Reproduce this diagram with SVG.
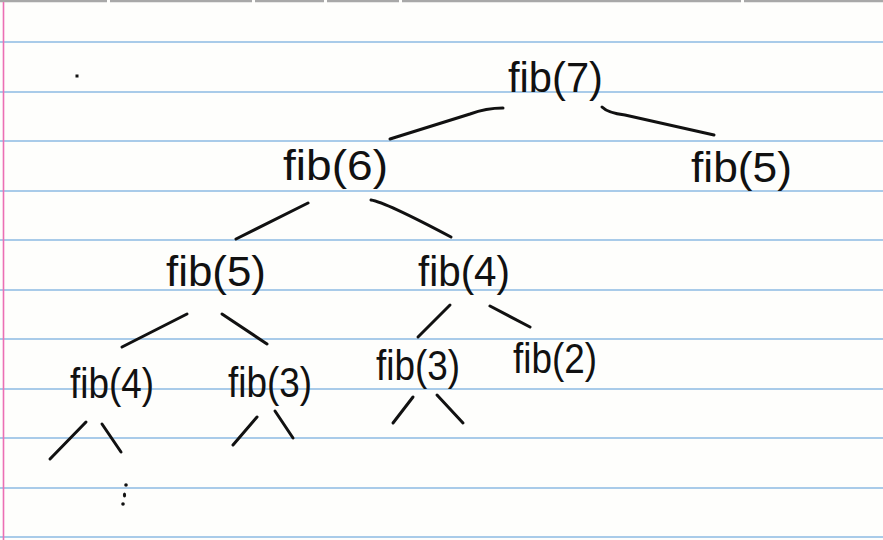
<svg xmlns="http://www.w3.org/2000/svg" width="883" height="540" viewBox="0 0 883 540">
<style>
.rule{stroke:#a9cbe9;stroke-width:2;fill:none}
.top{stroke:#a8a8a8;stroke-width:2.5;fill:none}
.lbl{font-family:"Liberation Sans",Arial,sans-serif;font-size:42px;fill:#111}
.edge{stroke:#111;stroke-width:3;stroke-linecap:round;fill:none}
</style>
<rect width="883" height="540" fill="#fefefc"/>
<g id="paper">
<path class="top" d="M0 1H107M110 1H252M255 1H324M327 1H399M402 1H741M744 1H883"/>
<path class="rule" d="M0 42H883M0 92H883M0 141H883M0 191H883M0 240H883M0 290H883M0 339H883M0 389H883M0 438H883M0 488H883M0 537H883"/>
<line x1="3.5" y1="2" x2="3.5" y2="540" stroke="#ec6fb4" stroke-width="1.6"/>
<rect x="75.5" y="74.5" width="3" height="3" fill="#111"/>
</g>
<g id="connectors">
<path class="edge" d="M503 108 Q486 108 470 114 L390 139"/>
<path class="edge" d="M602 107 Q608 113 625 115 L714 135"/>
<path class="edge" d="M308 203 L236 239"/>
<path class="edge" d="M371 200 Q385 202 451 237"/>
<path class="edge" d="M187 314 L122 347"/>
<path class="edge" d="M222 314 L267 344"/>
<path class="edge" d="M450 305 L418 337"/>
<path class="edge" d="M490 306 L530 327"/>
<path class="edge" d="M86 422 L50 459"/>
<path class="edge" d="M102 424 L121 452"/>
<path class="edge" d="M257 417 L233 445"/>
<path class="edge" d="M275 411 L293 438"/>
<path class="edge" d="M413 397 L393 423"/>
<path class="edge" d="M437 395 L463 423"/>
</g>
<g id="n-fib7"><text class="lbl" x="508" y="92" textLength="95" lengthAdjust="spacingAndGlyphs">fib(7)</text></g>
<g id="n-fib6"><text class="lbl" x="283" y="180" textLength="105" lengthAdjust="spacingAndGlyphs">fib(6)</text></g>
<g id="n-fib5r"><text class="lbl" x="691" y="182" textLength="101" lengthAdjust="spacingAndGlyphs">fib(5)</text></g>
<g id="n-fib5l"><text class="lbl" x="166" y="286" textLength="100" lengthAdjust="spacingAndGlyphs">fib(5)</text></g>
<g id="n-fib4m"><text class="lbl" x="418" y="286" textLength="92" lengthAdjust="spacingAndGlyphs">fib(4)</text></g>
<g id="n-fib4l"><text class="lbl" x="70" y="398" textLength="84" lengthAdjust="spacingAndGlyphs">fib(4)</text></g>
<g id="n-fib3m"><text class="lbl" x="228" y="397" textLength="84" lengthAdjust="spacingAndGlyphs">fib(3)</text></g>
<g id="n-fib3r"><text class="lbl" x="376" y="380" textLength="84" lengthAdjust="spacingAndGlyphs">fib(3)</text></g>
<g id="n-fib2"><text class="lbl" x="513" y="373" textLength="84" lengthAdjust="spacingAndGlyphs">fib(2)</text></g>
<g id="ellipsis" fill="#111">
<circle cx="126" cy="485" r="1.8"/>
<ellipse cx="124.5" cy="495" rx="1.6" ry="2.6"/>
<circle cx="123" cy="504" r="1.8"/>
</g>
</svg>
